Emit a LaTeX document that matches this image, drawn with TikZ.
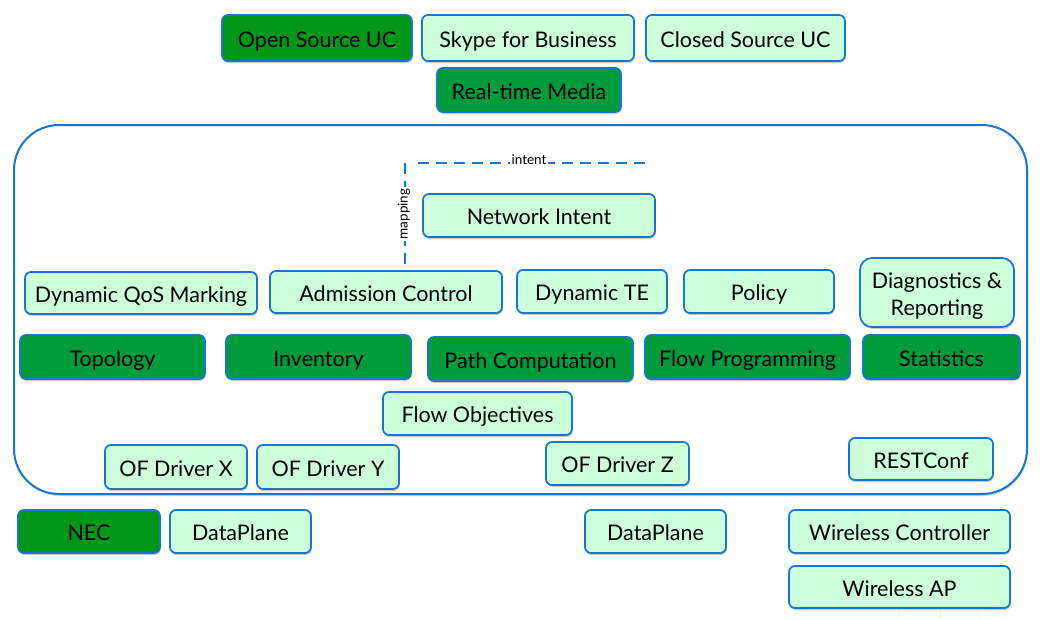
\documentclass[tikz,border=0pt]{standalone}
\usepackage{fontspec}
\setmainfont{Lato}
\usetikzlibrary{shadows}
\definecolor{bblue}{RGB}{22,118,208}
\definecolor{lgreen}{RGB}{204,255,218}
\definecolor{dgreen}{RGB}{0,155,58}
\definecolor{ogreen}{RGB}{0,150,24}
\tikzset{
  box/.style={draw=bblue, line width=1.7pt, rounded corners=6pt, inner sep=0pt,
    align=center, font=\fontsize{21.5}{24}\selectfont, text height=20pt, text depth=1.5pt,
    drop shadow={shadow xshift=0.6pt, shadow yshift=-2pt, opacity=0.35, fill=black!60}},
  lbox/.style={box, fill=lgreen},
  dbox/.style={box, fill=dgreen},
  obox/.style={box, fill=ogreen},
  dashline/.style={draw=bblue, line width=2.4pt, dash pattern=on 11pt off 7pt},
  smalllab/.style={font=\fontsize{13.5}{15}\selectfont, fill=white, inner sep=1.5pt},
}
\begin{document}
\begin{tikzpicture}[x=1pt,y=-1pt]
\useasboundingbox[fill=white] (0,0) rectangle (1040,619);
% container
\node[draw=bblue, line width=2pt, rounded corners=45pt, minimum width=1013pt, minimum height=369pt,
  drop shadow={shadow xshift=0.6pt, shadow yshift=-2pt, opacity=0.3}, fill=white] (frame) at (520.5,309.5) {};
% top row
\node[obox, minimum width=190pt, minimum height=46pt] (osuc) at (317,38) {Open Source UC};
\node[lbox, minimum width=212pt, minimum height=46pt] (skype) at (528,38) {Skype for Business};
\node[lbox, minimum width=199pt, minimum height=46pt] (csuc) at (745.5,38) {Closed Source UC};
\node[dbox, minimum width=184pt, minimum height=44pt] (rtm) at (529,90) {Real-time Media};
% intent / mapping
\coordinate (corner) at (405,163);
\coordinate (iend) at (651,163);
\coordinate (mend) at (405,265);
\draw[dashline] (corner) -- (mend);
\draw[dashline] ([xshift=13pt]corner) -- (iend);
\node[smalllab, anchor=south] (intentlab) at (529,166) {intent};
\node[smalllab, rotate=90] (mappinglab) at (404,214) {mapping};
\node[lbox, minimum width=232pt, minimum height=43pt] (ni) at (539,215.5) {Network Intent};
% applications row
\node[lbox, minimum width=232pt, minimum height=42pt] (qos) at (141,293) {Dynamic QoS Marking};
\node[lbox, minimum width=232pt, minimum height=42pt] (ac) at (386,292) {Admission Control};
\node[lbox, minimum width=150pt, minimum height=43pt] (dte) at (592,291.5) {Dynamic TE};
\node[lbox, minimum width=150pt, minimum height=43pt] (pol) at (759,291.5) {Policy};
\node[lbox, minimum width=154pt, minimum height=69pt, rounded corners=12pt, text height=51pt, text depth=5pt] (diag) at (937,292.5) {Diagnostics \&\\[3pt]Reporting};
% core services row
\node[dbox, minimum width=185pt, minimum height=44pt] (topo) at (112.5,357) {Topology};
\node[dbox, minimum width=185pt, minimum height=44pt] (inv) at (318.5,357) {Inventory};
\node[dbox, minimum width=205pt, minimum height=44pt] (pathc) at (530.5,359) {Path Computation};
\node[dbox, minimum width=205pt, minimum height=44pt] (flowp) at (747.5,357) {Flow Programming};
\node[dbox, minimum width=157pt, minimum height=44pt] (stats) at (941.5,357) {Statistics};
% flow objectives and drivers
\node[lbox, minimum width=189pt, minimum height=43pt] (fobj) at (477.5,413.5) {Flow Objectives};
\node[lbox, minimum width=142pt, minimum height=44pt] (ofx) at (176,467) {OF Driver X};
\node[lbox, minimum width=142pt, minimum height=44pt] (ofy) at (328,467) {OF Driver Y};
\node[lbox, minimum width=143pt, minimum height=43pt] (ofz) at (617.5,463.5) {OF Driver Z};
\node[lbox, minimum width=144pt, minimum height=42pt] (rest) at (921,459) {RESTConf};
% devices
\node[obox, minimum width=142pt, minimum height=43pt] (nec) at (89,531.5) {NEC};
\node[lbox, minimum width=141pt, minimum height=43pt] (dp1) at (240.5,531.5) {DataPlane};
\node[lbox, minimum width=141pt, minimum height=43pt] (dp2) at (655.5,531.5) {DataPlane};
\node[lbox, minimum width=221pt, minimum height=43pt] (wc) at (899.5,531.5) {Wireless Controller};
\node[lbox, minimum width=221pt, minimum height=42pt] (wap) at (899.5,587) {Wireless AP};
% faint signal lines
\coordinate (s1) at (897,619);
\coordinate (s2) at (940,619);
\coordinate (s3) at (980,619);
\draw[yellow!90!orange, line width=1pt, dotted] (940,610) -- (s2);
\draw[yellow!90!orange, line width=0.8pt, dotted, opacity=0.6] (900,610) -- (s1);
\draw[yellow!90!orange, line width=0.8pt, dotted, opacity=0.6] (977,610) -- (s3);
\end{tikzpicture}
\end{document}
